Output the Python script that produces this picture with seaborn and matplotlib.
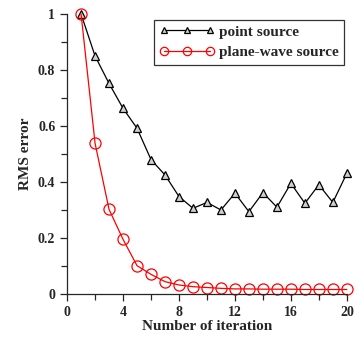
import matplotlib
matplotlib.use("Agg")
import matplotlib.pyplot as plt
import seaborn as sns
import pandas as pd
from matplotlib.ticker import MultipleLocator

iterations = list(range(1, 21))
point_source = [1.0, 0.85, 0.752, 0.663, 0.592, 0.48, 0.425, 0.348, 0.306, 0.327,
                0.30, 0.36, 0.294, 0.362, 0.31, 0.395, 0.324, 0.39, 0.327, 0.431]
plane_wave = [1.0, 0.538, 0.302, 0.195, 0.101, 0.07, 0.044, 0.032, 0.026, 0.023,
              0.02, 0.018, 0.018, 0.017, 0.017, 0.017, 0.016, 0.016, 0.016, 0.016]

sns.set_style("ticks")
plt.rcParams['font.family'] = ['Liberation Serif', 'DejaVu Serif']
plt.rcParams['font.weight'] = 'bold'

fig = plt.figure(figsize=(3.55, 3.43), dpi=100)
ax = fig.add_axes([0.189, 0.143, 0.788, 0.816])

df = pd.DataFrame({"x": iterations, "point": point_source, "plane": plane_wave})
sns.lineplot(data=df, x="x", y="point", ax=ax, color="black", lw=0.9,
             marker="^", markersize=6, markerfacecolor="#d0d0d0",
             markeredgecolor="black", markeredgewidth=0.9,
             label="point source", clip_on=False)
sns.lineplot(data=df, x="x", y="plane", ax=ax, color="red", lw=0.9,
             marker="o", markersize=8, markerfacecolor="none",
             markeredgecolor="red", markeredgewidth=0.9,
             label="plane-wave source", clip_on=False)

ax.set_xlim(0, 20)
ax.set_ylim(0, 1)
ax.xaxis.set_major_locator(MultipleLocator(4))
ax.xaxis.set_minor_locator(MultipleLocator(2))
ax.yaxis.set_minor_locator(MultipleLocator(0.1))
ax.set_yticks([0, 0.2, 0.4, 0.6, 0.8, 1.0])
ax.set_yticklabels(["0", "0.2", "0.4", "0.6", "0.8", "1"])
ax.tick_params(axis="both", which="major", length=5, width=0.9, labelsize=10, direction="out")
ax.tick_params(axis="both", which="minor", length=4, width=0.9, direction="out")
for lab in ax.get_xticklabels() + ax.get_yticklabels():
    lab.set_fontweight("bold")
sns.despine(ax=ax)
for s in ["left", "bottom"]:
    ax.spines[s].set_linewidth(0.9)

ax.set_xlabel("Number of iteration", fontsize=11, fontweight="bold", labelpad=1)
ax.set_ylabel("RMS error", fontsize=11, fontweight="bold", labelpad=4)

leg = ax.legend(loc="upper right", bbox_to_anchor=(0.99, 0.98), frameon=True,
                fancybox=False, edgecolor="black", fontsize=11, numpoints=3,
                markerscale=0.75, handlelength=3.6, borderpad=0.35, labelspacing=0.45,
                handletextpad=0.3, borderaxespad=0)
leg.get_frame().set_linewidth(0.9)
for t in leg.get_texts():
    t.set_fontweight("bold")

fig.savefig("out.png", dpi=100)
